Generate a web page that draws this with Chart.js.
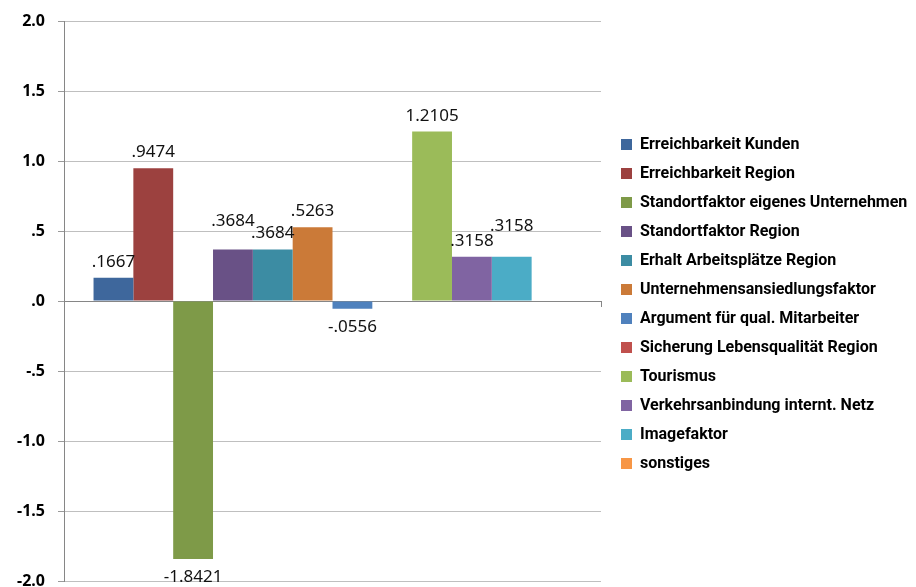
<!DOCTYPE html>
<html>
<head>
<meta charset="utf-8">
<script src="https://cdn.jsdelivr.net/npm/chart.js@4/dist/chart.umd.min.js"></script>
<style>
  html, body { margin: 0; padding: 0; background: #fff; }
  #wrap { width: 916px; height: 587px; position: relative; }
</style>
</head>
<body>
<div id="wrap"><canvas id="barChart"></canvas></div>
<script>
// one (unnamed) category, one bar per answer option
const categories = [''];

const seriesNames = [
  'Erreichbarkeit Kunden',
  'Erreichbarkeit Region',
  'Standortfaktor eigenes Unternehmen',
  'Standortfaktor Region',
  'Erhalt Arbeitsplätze Region',
  'Unternehmensansiedlungsfaktor',
  'Argument für qual. Mitarbeiter',
  'Sicherung Lebensqualität Region',
  'Tourismus',
  'Verkehrsanbindung internt. Netz',
  'Imagefaktor',
  'sonstiges'
];

// mean values; null = no bar drawn
const seriesValues = [0.1667, 0.9474, -1.8421, 0.3684, 0.3684, 0.5263, -0.0556, null, 1.2105, 0.3158, 0.3158, null];

const yTicks = [-2, -1.5, -1, -0.5, 0, 0.5, 1, 1.5, 2];

const seriesColors = [
  '#3E679C', '#9C413F', '#7E9A48', '#695186', '#3C8CA3', '#CB7A38',
  '#4F81BD', '#C0504D', '#9BBB59', '#8064A2', '#4BACC6', '#F79646'
];

// extra lift for labels that would collide with a neighbour
const labelLift = [0, 0, 0, 12, 0, 0, 0, 0, 0, 0, 15, 0];

// ".5" style: drop the leading zero
function noLeadZero(str) {
  return str.replace(/^(-?)0\./, '$1.');
}

const valueLabels = {
  id: 'valueLabels',
  afterDatasetsDraw(chart) {
    const ctx = chart.ctx;
    ctx.save();
    ctx.font = '17px "Noto Sans"';
    ctx.fillStyle = '#111';
    ctx.textAlign = 'center';
    ctx.textBaseline = 'alphabetic';
    chart.data.datasets.forEach((ds, i) => {
      const meta = chart.getDatasetMeta(i);
      meta.data.forEach((bar, j) => {
        const v = ds.data[j];
        if (v == null) return;
        const text = noLeadZero(v.toFixed(4));
        if (v >= 0) {
          ctx.fillText(text, bar.x, bar.y - 11 - labelLift[i]);
        } else {
          ctx.fillText(text, bar.x, bar.y + 23);
        }
      });
    });
    ctx.restore();
  }
};

// fixed legend column width, items inset a little from the plot
const legendFit = {
  id: 'legendFit',
  beforeLayout(chart) {
    const legend = chart.legend;
    if (!legend || legend._fixedFit) return;
    const fit = legend.fit;
    legend.fit = function () {
      fit.call(this);
      this.width = 315;
    };
    legend._fixedFit = true;
  },
  afterLayout(chart) {
    chart.legend.left += 7;
    chart.legend.top += 3;
    chart.legend.bottom += 3;
  }
};

const datasets = seriesNames.map((name, i) => ({
  label: name,
  data: [seriesValues[i]],
  backgroundColor: seriesColors[i],
  borderWidth: 0,
  categoryPercentage: 0.89,
  barPercentage: 1.0
}));

new Chart(document.getElementById('barChart'), {
  type: 'bar',
  data: { labels: categories, datasets: datasets },
  plugins: [valueLabels, legendFit],
  options: {
    responsive: true,
    maintainAspectRatio: false,
    animation: false,
    layout: { padding: { top: 21, bottom: 6, left: 0, right: 0 } },
    scales: {
      x: {
        position: { y: 0 },
        ticks: { display: false },
        grid: { drawOnChartArea: false, drawTicks: true, tickLength: 5, color: '#868686' },
        border: { display: true, color: '#868686', width: 1 }
      },
      y: {
        min: -2,
        max: 2,
        afterBuildTicks(scale) {
          scale.ticks = yTicks.map(v => ({ value: v }));
        },
        afterFit(scale) {
          scale.width = 64;
          scale.paddingTop = 0;
          scale.paddingBottom = 0;
        },
        ticks: {
          padding: 13,
          color: '#000',
          font: { family: '"Noto Sans"', weight: 'bold', size: 16 },
          callback: v => noLeadZero(Number(v).toFixed(1))
        },
        grid: { color: '#BFBFBF', lineWidth: 1, tickLength: 6, tickColor: '#9A9A9A' },
        border: { display: true, color: '#868686', width: 1 }
      }
    },
    plugins: {
      tooltip: { enabled: false },
      legend: {
        position: 'right',
        labels: {
          color: '#000',
          boxWidth: 11,
          boxHeight: 11,
          padding: 13,
          font: { family: 'Roboto', weight: 'bold', size: 16 }
        }
      }
    }
  }
});
</script>
</body>
</html>
